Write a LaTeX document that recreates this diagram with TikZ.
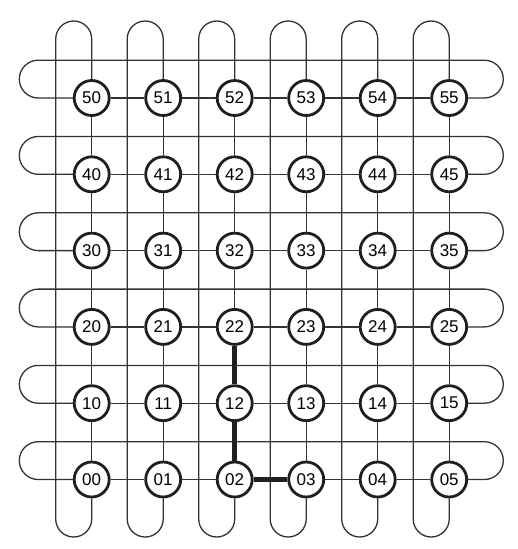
\documentclass[tikz,border=0pt]{standalone}
\usepackage{fontspec}
\setmainfont{Liberation Sans}
\begin{document}
\begin{tikzpicture}[x=1pt,y=-1pt,
  pe/.style={circle,draw=black!88,line width=2.8pt,fill=white,minimum size=35pt,inner sep=0pt,font=\fontsize{17}{20}\selectfont},
  link/.style={draw=black!80,line width=1.3pt},
  colwrap/.style={link,rounded corners=18pt},
  rowwrap/.style={link,rounded corners=18.9pt},
  route/.style={draw=black!88,line width=5.5pt}]
\useasboundingbox (0,0) rectangle (517,549);
\foreach \i in {0,...,5}{\foreach \j in {0,...,5}{
  \node[pe] (n\i\j) at ({91.7+71.5*\j},{479.5-76.3*\i}) {\i\j};}}
% mesh links
\foreach \i in {0,...,5}{\foreach \j/\k in {0/1,1/2,2/3,3/4,4/5}{
  \draw[link] (n\i\j) -- (n\i\k);}}
\foreach \j in {0,...,5}{\foreach \i/\k in {0/1,1/2,2/3,3/4,4/5}{
  \draw[link] (n\i\j) -- (n\k\j);}}
% column wrap-around
\foreach \j in {0,...,5}{
  \pgfmathsetmacro\xc{91.7+71.5*\j}
  \draw[colwrap] (n5\j.north) -- (\xc,21) -- (\xc-36,21) -- (\xc-36,537) -- (\xc,537) -- (n0\j.south);}
% row wrap-around
\foreach \i in {0,...,5}{
  \pgfmathsetmacro\yc{479.5-76.3*\i}
  \draw[rowwrap] (n\i0.west) -- (19.3,\yc) -- (19.3,\yc-37.8) -- (503.3,\yc-37.8) -- (503.3,\yc) -- (n\i5.east);}
% highlighted route
\draw[route] (n22) -- (n12);
\draw[route] (n12) -- (n02);
\draw[route] (n02) -- (n03);
\end{tikzpicture}
\end{document}
